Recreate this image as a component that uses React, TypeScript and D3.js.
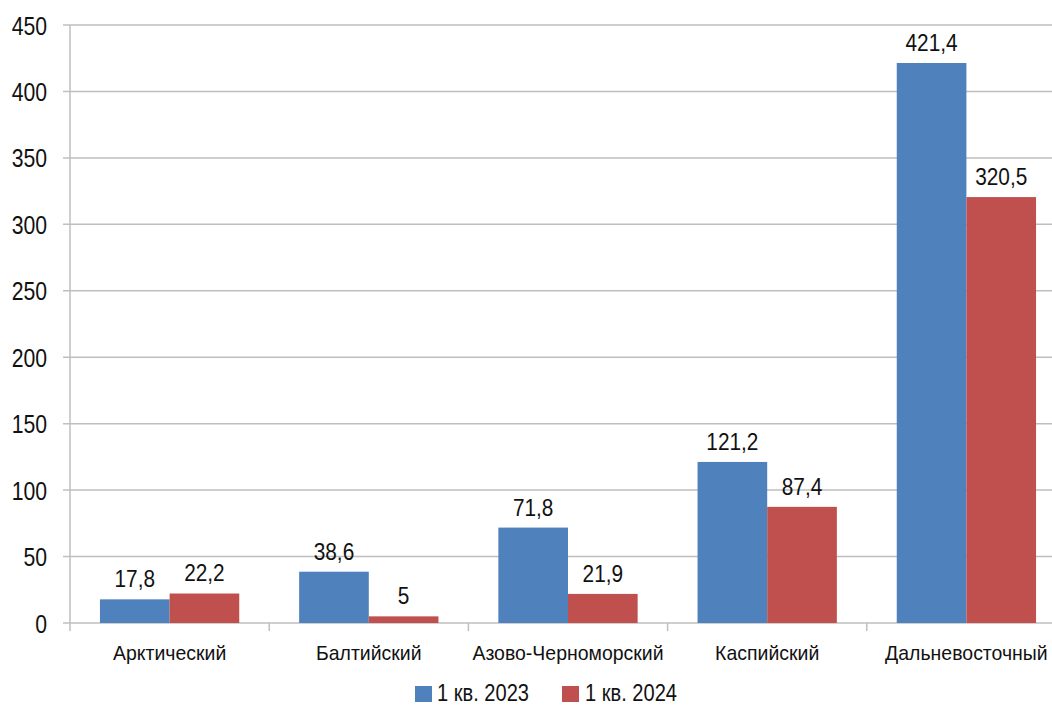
import React from "react";
import * as d3 from "d3";

const categories = ["Арктический", "Балтийский", "Азово-Черноморский", "Каспийский", "Дальневосточный"];
const seriesNames = ["1 кв. 2023", "1 кв. 2024"];
const values2023 = [17.8, 38.6, 71.8, 121.2, 421.4];
const values2024 = [22.2, 5, 21.9, 87.4, 320.5];
const yTicks = [0, 50, 100, 150, 200, 250, 300, 350, 400, 450];
const colors = ["#4F81BD", "#C0504D"];

const W = 1052;
const H = 706;
const FONT = "'Liberation Sans', Arial, sans-serif";

export default function App() {
	const left = 70;
	const top = 25;
	const bottom = 623;

	const y = d3.scaleLinear().domain([0, 450]).range([bottom, top]);
	const x = d3.scaleBand().domain(categories).range([left, left + 5 * 199.2]).paddingInner(0).paddingOuter(0);
	const x1 = d3.scaleBand().domain(seriesNames).range([0, x.bandwidth()]).paddingInner(0).paddingOuter(0.43);
	const series = [values2023, values2024];
	const fmt = (v: number) => String(v).replace(".", ",");

	const boundaries = categories.map((c) => x(c)!);

	return (
		<svg width={W} height={H} style={{ position: "absolute", left: 0, top: 0, background: "#fff" }} fontFamily={FONT}>
			{/* grid */}
			{yTicks.map((t) => (
				<line key={t} x1={left - 7} x2={W} y1={y(t)} y2={y(t)} stroke="#BFBFBF" strokeWidth={1.5} />
			))}
			<line x1={left} x2={left} y1={top} y2={bottom + 8} stroke="#BFBFBF" strokeWidth={1.5} />
			{boundaries.slice(1).map((b, i) => (
				<line key={i} x1={b} x2={b} y1={bottom} y2={bottom + 8} stroke="#BFBFBF" strokeWidth={1.5} />
			))}
			{/* y tick labels */}
			{yTicks.map((t) => (
				<text
					key={t}
					transform={`translate(47,${y(t) + 9.5}) scale(0.8,1)`}
					textAnchor="end"
					fontSize={26.5}
					fill="#111"
				>
					{t}
				</text>
			))}
			{/* bars */}
			{categories.map((c, i) => (
				<g key={c} transform={`translate(${x(c)},0)`}>
					{series.map((s, j) => (
						<g key={j}>
							<rect
								x={x1(seriesNames[j])!}
								y={y(s[i])}
								width={x1.bandwidth()}
								height={y(0) - y(s[i])}
								fill={colors[j]}
							/>
							<text
								transform={`translate(${x1(seriesNames[j])! + x1.bandwidth() / 2},${y(s[i]) - 12}) scale(0.85,1)`}
								textAnchor="middle"
								fontSize={24.5}
								fill="#111"
							>
								{fmt(s[i])}
							</text>
						</g>
					))}
					<text
						transform={`translate(${x.bandwidth() / 2},660) scale(0.95,1)`}
						textAnchor="middle"
						fontSize={20.5}
						fill="#111"
					>
						{c}
					</text>
				</g>
			))}
			{/* legend */}
			<rect x={415} y={686} width={17} height={16} fill={colors[0]} />
			<text transform="translate(437,701) scale(0.82,1)" fontSize={24.5} fill="#111">
				{seriesNames[0]}
			</text>
			<rect x={562} y={686} width={17} height={16} fill={colors[1]} />
			<text transform="translate(585,701) scale(0.82,1)" fontSize={24.5} fill="#111">
				{seriesNames[1]}
			</text>
		</svg>
	);
}
